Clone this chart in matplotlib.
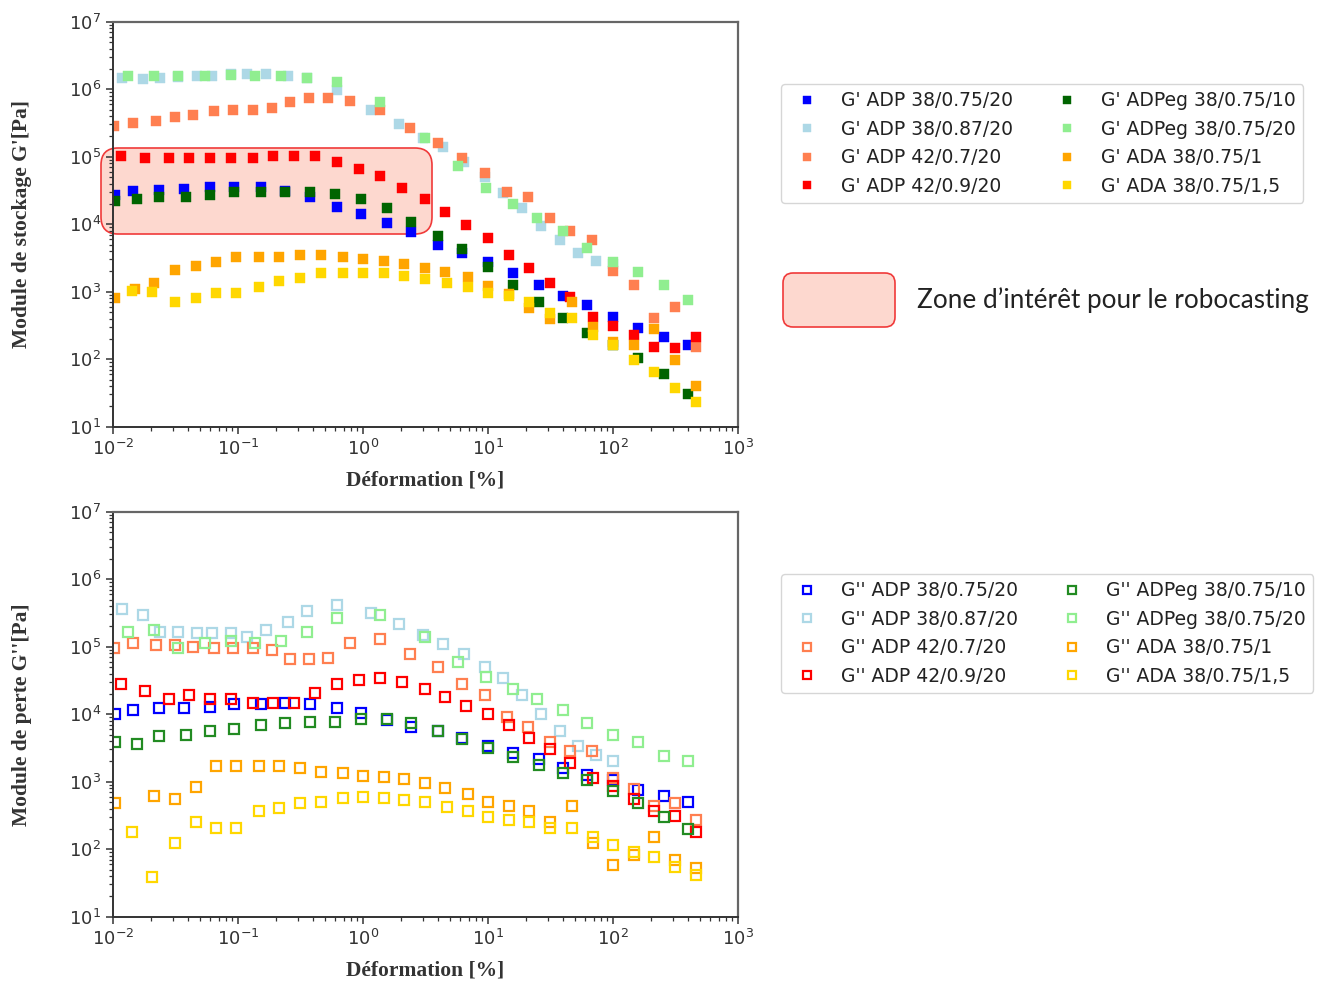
import matplotlib
matplotlib.use('Agg')
import matplotlib.pyplot as plt
from matplotlib.patches import FancyBboxPatch
from matplotlib.ticker import LogLocator, NullFormatter

# ---------------- data (strain in %, moduli in Pa) ----------------
x_adp38_075 = [0.0104, 0.0145, 0.0235, 0.0370, 0.0597, 0.0933, 0.152, 0.237, 0.380, 0.617, 0.972, 1.56,
               2.44, 3.98, 6.2, 10.0, 15.8, 25.5, 39.8, 62.5, 100, 158, 254, 400]
x_adpeg_10 = [0.0104, 0.0156, 0.0235, 0.0384, 0.0597, 0.0933, 0.152, 0.237, 0.380, 0.598, 0.972, 1.56,
              2.44, 3.98, 6.2, 10.0, 15.8, 25.5, 39.8, 62.5, 100, 158, 254, 400]
x_adp42_09 = [0.0115, 0.0180, 0.0281, 0.0408, 0.0597, 0.0873, 0.132, 0.191, 0.280, 0.412, 0.617, 0.930,
              1.37, 2.06, 3.13, 4.57, 6.7, 10.0, 14.7, 21.3, 31.4, 45.4, 69.4, 100, 147, 214, 315, 461]
x_adp42_07 = [0.0102, 0.0145, 0.0221, 0.0313, 0.0439, 0.0642, 0.0906, 0.132, 0.186, 0.260, 0.370, 0.524,
              0.785, 1.37, 2.37, 3.98, 6.2, 9.4, 14.2, 20.9, 31.4, 45.4, 67.8, 100, 147, 214, 315, 461]
x_adp38_087 = [0.0117, 0.0173, 0.0238, 0.0333, 0.0467, 0.0623, 0.0877, 0.119, 0.168, 0.249, 0.358, 0.617,
               1.15, 1.94, 3.00, 4.38, 6.4, 9.4, 13.2, 18.8, 26.4, 37.4, 52.4, 72.7, 100]
x_adpeg_20 = [0.0133, 0.0213, 0.0333, 0.0544, 0.0877, 0.136, 0.220, 0.358, 0.617, 1.37, 3.13, 5.75,
              9.7, 15.8, 24.7, 39.8, 62.5, 100, 158, 254, 400]
x_ada_1_top = [0.0104, 0.0150, 0.0213, 0.0313, 0.0458, 0.0663, 0.0963, 0.147, 0.214, 0.313, 0.458, 0.686,
               1.00, 1.47, 2.13, 3.13, 4.57, 6.9, 10.0, 14.7, 21.3, 31.4, 47.2, 69.4, 100, 147, 214, 315, 461]
x_ada_1_bot = [0.0104, 0.0213, 0.0313, 0.0458, 0.0663, 0.0963, 0.147, 0.214, 0.313, 0.458, 0.686,
               1.00, 1.47, 2.13, 3.13, 4.57, 6.9, 10.0, 14.7, 21.3, 31.4, 47.2, 69.4, 100, 147, 214, 315, 461]
x_ada_15 = [0.0141, 0.0206, 0.0313, 0.0458, 0.0663, 0.0963, 0.147, 0.214, 0.313, 0.458, 0.686, 1.00,
            1.47, 2.13, 3.13, 4.7, 6.9, 10.0, 14.7, 21.3, 31.4, 47.2, 69.4, 100, 147, 214, 315, 461]

# G' (storage modulus)
gp_adp38_075 = [2.7e4, 3.1e4, 3.2e4, 3.3e4, 3.56e4, 3.56e4, 3.56e4, 3.1e4, 2.5e4, 1.82e4, 1.42e4, 1.03e4,
                7.6e3, 5.0e3, 3.7e3, 2.78e3, 1.87e3, 1.26e3, 863, 630, 427, 293, 211, 162]
gp_adp38_087 = [1.48e6, 1.4e6, 1.48e6, 1.53e6, 1.58e6, 1.58e6, 1.66e6, 1.68e6, 1.7e6, 1.58e6, 1.45e6, 9.7e5,
                5.0e5, 3.05e5, 1.91e5, 1.41e5, 8.4e4, 4.95e4, 2.87e4, 1.72e4, 9.5e3, 5.8e3, 3.8e3, 2.88e3, 2.6e3]
gp_adp42_07 = [2.85e5, 3.2e5, 3.4e5, 3.9e5, 4.2e5, 4.7e5, 5.0e5, 5.0e5, 5.3e5, 6.4e5, 7.3e5, 7.3e5,
               6.8e5, 4.9e5, 2.7e5, 1.61e5, 9.5e4, 5.7e4, 3.03e4, 2.53e4, 1.25e4, 7.9e3, 5.8e3, 2.05e3,
               1.26e3, 404, 588, 153]
gp_adp42_09 = [1.02e5, 9.5e4, 9.5e4, 9.5e4, 9.5e4, 9.5e4, 9.5e4, 1.02e5, 1.02e5, 1.02e5, 8.4e4, 6.5e4,
               5.1e4, 3.44e4, 2.36e4, 1.5e4, 9.7e3, 6.2e3, 3.5e3, 2.22e3, 1.33e3, 826, 427, 310, 229, 153, 145, 215]
gp_adpeg_10 = [2.21e4, 2.36e4, 2.5e4, 2.5e4, 2.68e4, 3.03e4, 3.03e4, 3.03e4, 3.03e4, 2.83e4, 2.36e4, 1.72e4,
               1.09e4, 6.7e3, 4.25e3, 2.35e3, 1.26e3, 711, 404, 242, 162, 105, 60, 31]
gp_adpeg_20 = [1.58e6, 1.58e6, 1.58e6, 1.58e6, 1.62e6, 1.57e6, 1.58e6, 1.45e6, 1.29e6, 6.4e5, 1.91e5, 7.4e4,
               3.47e4, 1.97e4, 1.25e4, 7.9e3, 4.5e3, 2.78e3, 1.98e3, 1.26e3, 753]
gp_ada_1 = [798, 1.1e3, 1.33e3, 2.1e3, 2.4e3, 2.73e3, 3.27e3, 3.27e3, 3.27e3, 3.5e3, 3.5e3, 3.27e3,
            3.05e3, 2.88e3, 2.57e3, 2.24e3, 1.98e3, 1.63e3, 1.21e3, 940, 568, 390, 711, 297, 181, 162, 277, 97, 40]
gp_ada_15 = [1.03e3, 980, 711, 798, 966, 966, 1.19e3, 1.44e3, 1.61e3, 1.87e3, 1.87e3, 1.87e3,
             1.87e3, 1.71e3, 1.53e3, 1.33e3, 1.16e3, 966, 873, 711, 479, 404, 229, 162, 97, 64, 38, 23]

# G'' (loss modulus)
gpp_adp38_075 = [1.01e4, 1.15e4, 1.22e4, 1.22e4, 1.29e4, 1.4e4, 1.4e4, 1.48e4, 1.4e4, 1.25e4, 1.03e4, 8.2e3,
                 6.5e3, 5.6e3, 4.5e3, 3.4e3, 2.64e3, 2.17e3, 1.58e3, 1.26e3, 1.06e3, 753, 614, 506]
gpp_adp38_087 = [3.58e5, 2.95e5, 1.67e5, 1.67e5, 1.58e5, 1.58e5, 1.58e5, 1.38e5, 1.77e5, 2.3e5, 3.38e5, 4.15e5,
                 3.19e5, 2.17e5, 1.49e5, 1.09e5, 7.8e4, 4.95e4, 3.4e4, 1.92e4, 1.01e4, 5.7e3, 3.4e3, 2.49e3, 2.05e3]
gpp_adp42_07 = [9.5e4, 1.15e5, 1.06e5, 1.06e5, 1.0e5, 9.5e4, 9.5e4, 9.5e4, 8.9e4, 6.5e4, 6.5e4, 6.9e4,
                1.15e5, 1.29e5, 7.8e4, 4.95e4, 2.8e4, 1.92e4, 9.0e3, 6.5e3, 3.9e3, 2.85e3, 2.85e3, 1.12e3,
                771, 436, 479, 271]
gpp_adp42_09 = [2.8e4, 2.21e4, 1.68e4, 1.92e4, 1.68e4, 1.68e4, 1.48e4, 1.48e4, 1.48e4, 2.04e4, 2.8e4, 3.2e4,
                3.4e4, 3.03e4, 2.34e4, 1.82e4, 1.32e4, 1.02e4, 6.9e3, 4.5e3, 3.0e3, 1.91e3, 1.15e3, 850,
                548, 368, 310, 182]
gpp_adpeg_10 = [3.9e3, 3.6e3, 4.75e3, 5.0e3, 5.7e3, 6.0e3, 6.9e3, 7.3e3, 7.7e3, 7.7e3, 8.4e3, 8.4e3,
                7.3e3, 5.6e3, 4.25e3, 3.19e3, 2.3e3, 1.77e3, 1.36e3, 1.06e3, 736, 479, 303, 197]
gpp_adpeg_20 = [1.67e5, 1.77e5, 9.5e4, 1.15e5, 1.21e5, 1.15e5, 1.21e5, 1.67e5, 2.64e5, 2.95e5, 1.38e5, 6.0e4,
                3.6e4, 2.34e4, 1.68e4, 1.15e4, 7.3e3, 5.0e3, 3.9e3, 2.4e3, 2.05e3]
gpp_ada_1 = [479, 614, 548, 843, 1.71e3, 1.71e3, 1.71e3, 1.71e3, 1.58e3, 1.41e3, 1.33e3, 1.23e3,
             1.16e3, 1.09e3, 966, 798, 650, 506, 441, 368, 255, 441, 122, 58, 82, 150, 69, 53]
gpp_ada_15 = [182, 39, 125, 251, 209, 209, 368, 412, 479, 506, 568, 600,
              568, 535, 506, 418, 368, 303, 271, 251, 204, 209, 153, 115, 92, 76, 55, 42]

samples = ["ADP 38/0.75/20", "ADP 38/0.87/20", "ADP 42/0.7/20", "ADP 42/0.9/20",
           "ADPeg 38/0.75/10", "ADPeg 38/0.75/20", "ADA 38/0.75/1", "ADA 38/0.75/1,5"]
colors_top = ["#0000FF", "#ADD8E6", "#FF7F50", "#FF0000", "#006400", "#90EE90", "#FFA500", "#FFD700"]
colors_bot = ["#0000FF", "#ADD8E6", "#FF7F50", "#FF0000", "#228B22", "#90EE90", "#FFA500", "#FFD700"]

xs_top = [x_adp38_075, x_adp38_087, x_adp42_07, x_adp42_09, x_adpeg_10, x_adpeg_20, x_ada_1_top, x_ada_15]
xs_bot = [x_adp38_075, x_adp38_087, x_adp42_07, x_adp42_09, x_adpeg_10, x_adpeg_20, x_ada_1_bot, x_ada_15]
ys_top = [gp_adp38_075, gp_adp38_087, gp_adp42_07, gp_adp42_09, gp_adpeg_10, gp_adpeg_20, gp_ada_1, gp_ada_15]
ys_bot = [gpp_adp38_075, gpp_adp38_087, gpp_adp42_07, gpp_adp42_09, gpp_adpeg_10, gpp_adpeg_20, gpp_ada_1, gpp_ada_15]

W, H = 1323, 985
fig = plt.figure(figsize=(W / 100, H / 100), dpi=100)
ax1 = fig.add_axes([113 / W, 1 - 426.7 / H, 625 / W, 405 / H])
ax2 = fig.add_axes([113 / W, 1 - 916.7 / H, 625 / W, 405 / H])

label_font = dict(family='Liberation Serif', weight='bold', size=15.5, color='#333333')

for ax, ylabel in [(ax1, "Module de stockage G'[Pa]"), (ax2, "Module de perte G''[Pa]")]:
    ax.set_xscale('log')
    ax.set_yscale('log')
    ax.set_xlim(1e-2, 1e3)
    ax.set_ylim(1e1, 1e7)
    for axis in (ax.xaxis, ax.yaxis):
        axis.set_major_locator(LogLocator(base=10, numticks=20))
        axis.set_minor_locator(LogLocator(base=10, subs=range(2, 10), numticks=200))
        axis.set_minor_formatter(NullFormatter())
    ax.tick_params(which='major', length=5, width=1.1, direction='out', labelsize=13,
                   colors='#333333', top=False, right=False)
    ax.tick_params(which='minor', length=3, width=0.9, direction='out', colors='#333333',
                   top=False, right=False)
    for side in ('left', 'bottom'):
        ax.spines[side].set_color('#333333')
        ax.spines[side].set_linewidth(1.4)
    for side in ('top', 'right'):
        ax.spines[side].set_color('#666666')
        ax.spines[side].set_linewidth(1.6)
    ax.set_xlabel('Déformation [%]', fontdict=label_font)
    ax.set_ylabel(ylabel, fontdict=label_font)
    ax.xaxis.set_label_coords(0.5, (426.7 - 471) / 405)
    ax.yaxis.set_label_coords((32 - 113) / 625, 0.5)

# top: filled squares
for x, y, c, s in zip(xs_top, ys_top, colors_top, samples):
    ax1.plot(x, y, ls='none', marker='s', ms=7.2, mfc=c, mec=c, mew=0.3, label="G' " + s, zorder=2)

# bottom: open squares
for x, y, c, s in zip(xs_bot, ys_bot, colors_bot, samples):
    ax2.plot(x, y, ls='none', marker='s', ms=6.8, mfc='none', mec=c, mew=1.6, label="G'' " + s, zorder=2)

# region of interest in the top plot
zone = FancyBboxPatch((1.01, (H - 234) / 100), 3.31, 0.86,
                      boxstyle='round,pad=0,rounding_size=0.17',
                      transform=fig.dpi_scale_trans, fc='#FDD8CF', ec='#F03A3A', lw=1.2,
                      clip_on=False, zorder=1)
ax1.add_patch(zone)

leg_kw = dict(loc='upper left', ncol=2, fontsize=13.5, bbox_transform=fig.transFigure,
              markerscale=0.8, frameon=True, borderaxespad=0, columnspacing=1.9)
leg1 = ax1.legend(bbox_to_anchor=(781 / W, 1 - 84 / H), **leg_kw)
leg2 = ax2.legend(bbox_to_anchor=(781 / W, 1 - 574 / H), **leg_kw)
for leg in (leg1, leg2):
    for t in leg.get_texts():
        t.set_color('#222222')

# key of the highlighted zone
key = FancyBboxPatch((7.83, (H - 327) / 100), 1.12, 0.54,
                     boxstyle='round,pad=0,rounding_size=0.1',
                     transform=fig.dpi_scale_trans, fc='#FDD8CF', ec='#F03A3A', lw=1.2)
fig.add_artist(key)
fig.text(917 / W, 1 - 300 / H, 'Zone d’intérêt pour le robocasting', family='Lato',
         fontsize=18.8, va='center', ha='left', color='#222222')

fig.savefig('out.png', dpi=100)
